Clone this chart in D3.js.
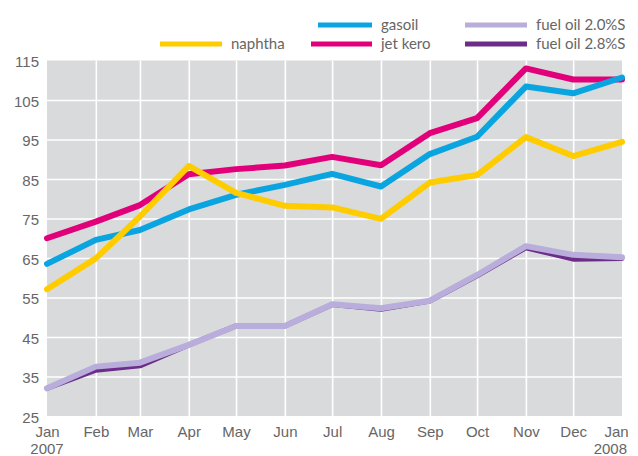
<!DOCTYPE html>
<html>
<head>
<meta charset="utf-8">
<script src="https://cdn.jsdelivr.net/npm/d3@7"></script>
<style>
    body { margin: 0; background: #fff; }
    svg { display: block; font-family: Lato, 'Open Sans', sans-serif; }
    .axis text { fill: #666; font-size: 15px; }
    .axis path { display: none; }
    .axis line { stroke: #fff; stroke-width: 1.6; }
    .legend text { fill: #666; font-size: 15px; }
</style>
</head>
<body>
<svg width="638" height="456"></svg>
<script>
const months = ['2007-01-01', '2007-02-01', '2007-03-01', '2007-04-01', '2007-05-01', '2007-06-01',
    '2007-07-01', '2007-08-01', '2007-09-01', '2007-10-01', '2007-11-01', '2007-12-01', '2008-01-01'];
const monthLabels = ['Jan', 'Feb', 'Mar', 'Apr', 'May', 'Jun', 'Jul', 'Aug', 'Sep', 'Oct', 'Nov', 'Dec', 'Jan'];
const yTicks = [25, 35, 45, 55, 65, 75, 85, 95, 105, 115];

const naphtha = [57.1, 64.9, 75.5, 88.3, 81.5, 78.2, 77.8, 74.9, 84.1, 86.0, 95.6, 90.8, 94.4];
const gasoil = [63.5, 69.6, 72.1, 77.3, 81.0, 83.5, 86.3, 83.1, 91.3, 95.7, 108.4, 106.7, 110.7];
const jetKero = [70.0, 74.2, 78.4, 86.2, 87.5, 88.4, 90.6, 88.5, 96.6, 100.4, 113.0, 110.2, 110.2];
const fuelOil20 = [32.0, 37.5, 38.5, 43.0, 47.8, 47.8, 53.3, 52.3, 54.2, 60.7, 68.0, 65.8, 65.2];
const fuelOil28 = [32.0, 36.6, 37.7, 43.0, 47.8, 47.8, 53.2, 52.0, 54.1, 60.5, 67.6, 64.7, 64.9];

const parseTime = d3.timeParse('%Y-%m-%d');
const dates = months.map(parseTime);

// draw order matters: bottom to top
const series = [
    { name: 'fuel oil 2.8%S', values: fuelOil28, color: '#6b2d87', width: 5 },
    { name: 'fuel oil 2.0%S', values: fuelOil20, color: '#b9addb', width: 6 },
    { name: 'jet kero', values: jetKero, color: '#e2007a', width: 6 },
    { name: 'gasoil', values: gasoil, color: '#0aa5e0', width: 6 },
    { name: 'naphtha', values: naphtha, color: '#ffcc00', width: 6 }
];
const colorOf = (name) => series.find((s) => s.name === name).color;

const margin = { top: 60.5, right: 16, bottom: 40, left: 47 };
const svg = d3.select('svg');
const w = 638, h = 456;
const width = w - margin.left - margin.right;
const height = h - margin.top - margin.bottom;

const x = d3.scaleTime().domain(d3.extent(dates)).range([0, width]);
const y = d3.scaleLinear().domain([25, 115]).range([height, 0]);

const g = svg.append('g').attr('transform', `translate(${margin.left},${margin.top})`);

g.append('rect')
    .attr('width', width)
    .attr('height', height)
    .attr('fill', '#d9dadc');

const axisY = d3.axisLeft(y).tickValues(yTicks).tickSizeInner(-width).tickSizeOuter(0).tickPadding(8);
const gy = g.append('g').attr('class', 'axis axis-y').call(axisY);
gy.selectAll('.tick text').attr('dy', '0.4em');
gy.selectAll('.tick line').filter((d) => d === 25 || d === 115).remove();

const axisX = d3.axisBottom(x).tickValues(dates).tickSizeInner(-height).tickSizeOuter(0).tickPadding(10)
    .tickFormat((d, i) => monthLabels[i]);
const gx = g.append('g').attr('class', 'axis axis-x')
    .attr('transform', `translate(0,${height})`)
    .call(axisX);
gx.selectAll('.tick line').filter((d, i) => i === 0 || i === dates.length - 1).remove();
gx.selectAll('.tick text').filter((d, i) => i === dates.length - 1).attr('dx', '-6');

gx.append('text').attr('x', x(dates[0])).attr('y', 38).attr('text-anchor', 'middle').text('2007');
gx.append('text').attr('x', x(dates[dates.length - 1]) + 5).attr('y', 38).attr('text-anchor', 'end').text('2008');

const line = d3.line()
    .x((d, i) => x(dates[i]))
    .y((d) => y(d));

g.selectAll('.series')
    .data(series)
    .enter()
    .append('path')
    .attr('class', 'series')
    .attr('fill', 'none')
    .attr('stroke', (d) => d.color)
    .attr('stroke-width', (d) => d.width)
    .attr('stroke-linejoin', 'round')
    .attr('stroke-linecap', 'round')
    .attr('d', (d) => line(d.values));

// legend, two rows
const legendLayout = [
    { name: 'gasoil', x: 318, y: 25, len: 54 },
    { name: 'fuel oil 2.0%S', x: 465, y: 25, len: 62 },
    { name: 'naphtha', x: 160, y: 44, len: 62 },
    { name: 'jet kero', x: 311, y: 44, len: 61 },
    { name: 'fuel oil 2.8%S', x: 465, y: 44, len: 62 }
];

const legend = svg.append('g').attr('class', 'legend');
const items = legend.selectAll('g').data(legendLayout).enter().append('g')
    .attr('transform', (d) => `translate(${d.x},${d.y})`);
items.append('line')
    .attr('x2', (d) => d.len)
    .attr('stroke', (d) => colorOf(d.name))
    .attr('stroke-width', 5);
items.append('text')
    .attr('x', (d) => d.len + 9)
    .attr('dy', '0.32em')
    .text((d) => d.name);
</script>
</body>
</html>
